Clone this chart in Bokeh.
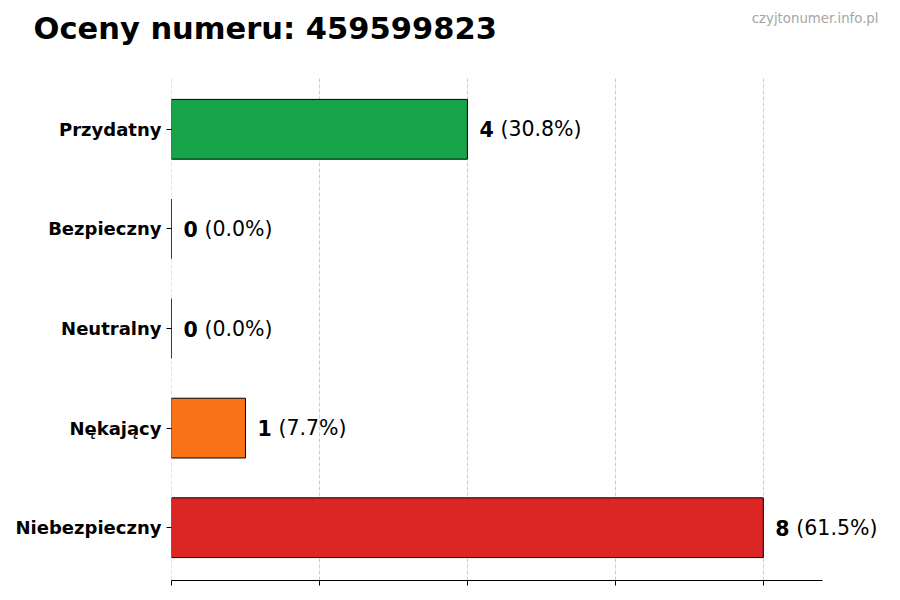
from bokeh.plotting import figure
from bokeh.layouts import column
from bokeh.models import Range1d, FixedTicker, LabelSet, ColumnDataSource
from bokeh.embed import file_html
from bokeh.resources import INLINE
from bokeh.core.properties import value

categories = ["Niebezpieczny", "Nękający", "Neutralny", "Bezpieczny", "Przydatny"]
counts = [8, 1, 0, 0, 4]
colors = ["#dc2626", "#f97316", "#9ca3af", "#3b82f6", "#16a34a"]
title_text = "Oceny numeru: 459599823"
watermark = "czyjtonumer.info.pl"
x_ticks = [0, 2, 4, 6, 8]

total = sum(counts)
ypos = list(range(len(categories)))
pct_labels = ["(%.1f%%)" % (100.0 * c / total) for c in counts]
cnt_labels = [str(c) for c in counts]

src = ColumnDataSource(dict(y=ypos, right=counts, color=colors,
                            cnt=cnt_labels, pct=pct_labels))

FONT = "DejaVu Sans"
CANVAS_W = 892
HEADER_H = 76
AXIS_MAX = 8.8            # end of the drawn x axis
FRAME_W, AXIS_W = 713, 651
X_END = AXIS_MAX * FRAME_W / AXIS_W   # extra room on the right for labels
Y_MIN, Y_MAX = -0.53, 4.53

# ---- header strip with the title and the site name (pixel coordinates)
hdr = figure(width=CANVAS_W, height=HEADER_H, x_range=Range1d(0, CANVAS_W),
             y_range=Range1d(0, HEADER_H), x_axis_type=None, y_axis_type=None,
             min_border=0, output_backend="svg", toolbar_location=None)
hdr.frame_align = False
hdr.outline_line_color = None
hdr.xgrid.visible = False
hdr.ygrid.visible = False
hdr.text(x=[33], y=[48], text=[title_text], text_font=value(FONT),
         text_font_style="bold", text_font_size="30.5px", text_color="black",
         text_baseline="alphabetic", text_align="left")
hdr.text(x=[878], y=[58.5], text=[watermark], text_font=value(FONT),
         text_font_size="13.3px", text_color="#a6a6a6",
         text_baseline="alphabetic", text_align="right")

# ---- bar chart
p = figure(frame_width=FRAME_W, frame_height=504,
           min_border_left=171, min_border_right=8,
           min_border_top=0, min_border_bottom=12,
           x_range=Range1d(-1e-4, X_END), y_range=Range1d(Y_MIN, Y_MAX),
           output_backend="svg", toolbar_location=None)
p.frame_align = False
p.outline_line_color = None
p.background_fill_color = "white"
p.border_fill_color = "white"

p.hbar(y="y", left=0, right="right", height=0.6, fill_color="color",
       line_color="black", line_width=1, source=src)

p.add_layout(LabelSet(x="right", y="y", text="cnt", source=src, x_offset=12,
                      text_font=value(FONT), text_font_style="bold",
                      text_font_size="20.5px",
                      text_baseline="middle", text_align="left", text_color="black"))
p.add_layout(LabelSet(x="right", y="y", text="pct", source=src, x_offset=33,
                      text_font=value(FONT), text_font_size="20.5px",
                      text_baseline="middle", text_align="left", text_color="black"))

p.yaxis.ticker = FixedTicker(ticks=ypos)
p.yaxis.major_label_overrides = {i: c for i, c in zip(ypos, categories)}
p.yaxis.major_label_text_font = FONT
p.yaxis.major_label_text_font_style = "bold"
p.yaxis.major_label_text_font_size = "18px"
p.yaxis.major_label_text_color = "black"
p.yaxis.axis_line_color = None
p.yaxis.major_tick_out = 5
p.yaxis.major_tick_in = 0
p.yaxis.minor_tick_line_color = None
p.yaxis.major_tick_line_color = "black"
p.yaxis.major_label_standoff = 5

p.xaxis.ticker = FixedTicker(ticks=x_ticks)
p.xaxis.bounds = (0, AXIS_MAX)
p.xaxis.major_label_overrides = {t: "" for t in x_ticks}
p.xaxis.major_label_standoff = 0
p.xaxis.major_tick_out = 5
p.xaxis.major_tick_in = 0
p.xaxis.minor_tick_line_color = None
p.xaxis.axis_line_color = "black"
p.xaxis.major_tick_line_color = "black"

p.ygrid.grid_line_color = None
p.xgrid.grid_line_color = "#cccccc"
p.xgrid.grid_line_dash = "4 2"
p.xgrid.grid_line_width = 1

layout = column(hdr, p, spacing=0)
open("out.html", "w").write(file_html(layout, INLINE))
